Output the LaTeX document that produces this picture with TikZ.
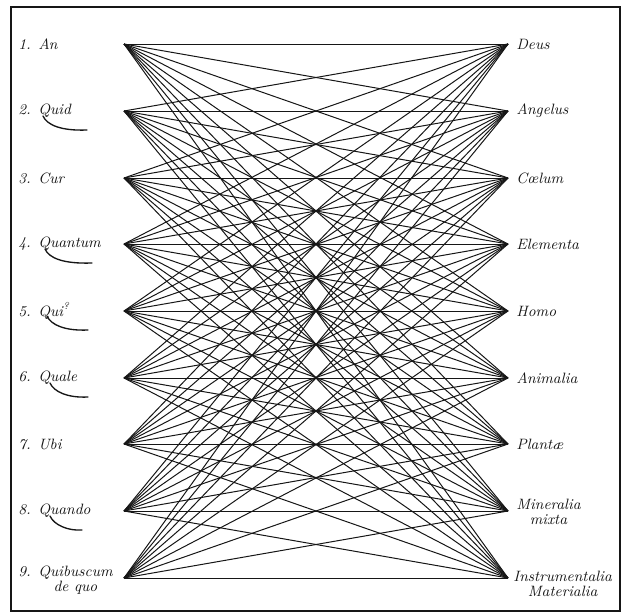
\documentclass[tikz,border=0pt]{standalone}
\usepackage{tikz}
\usetikzlibrary{positioning}
\definecolor{ink}{HTML}{161616}
\tikzset{
  qlabel/.style={anchor=west,font=\small\itshape,text=ink,inner sep=0pt},
  slabel/.style={anchor=west,font=\small\itshape,text=ink,inner sep=0pt,align=center},
  link/.style={draw=ink,line width=0.6pt},
  swash/.style={draw=ink,line width=0.8pt,line cap=round},
  frame/.style={draw=ink,line width=0.9pt}
}

\begin{document}
\begin{tikzpicture}[x=0.6pt,y=-0.6pt]
    \useasboundingbox (0,0) rectangle (623,613);
    \draw[frame] (11,7) rectangle (620,611);
    \foreach \i/\y in {1/44,2/111,3/178,4/244,5/311,6/378,7/444,8/511,9/578} {
      \coordinate (q\i) at (124,\y);
      \coordinate (s\i) at (508,\y);
    }
    \node[qlabel] (lq1) at (18,44) {1. An};
    \node[qlabel] (lq2) at (18,111) {2. Quid};
    \node[qlabel] (lq3) at (18,178) {3. Cur};
    \node[qlabel] (lq4) at (18,244) {4. Quantum};
    \node[qlabel] (lq5) at (18,311) {5. Qui\textsuperscript{?}};
    \node[qlabel] (lq6) at (18,378) {6. Quale};
    \node[qlabel] (lq7) at (18,444) {7. Ubi};
    \node[qlabel] (lq8) at (18,511) {8. Quando};
    \node[qlabel,anchor=base west] (lq9) at (18,576)
      {9. \begin{tabular}[t]{@{}c@{}}Quibuscum\\[-2pt]de quo\end{tabular}};
    \node[slabel] (ls1) at (516,44) {Deus};
    \node[slabel] (ls2) at (516,111) {Angelus};
    \node[slabel] (ls3) at (516,178) {C\oe lum};
    \node[slabel] (ls4) at (516,244) {Elementa};
    \node[slabel] (ls5) at (516,311) {Homo};
    \node[slabel] (ls6) at (516,378) {Animalia};
    \node[slabel] (ls7) at (516,444) {Plant\ae};
    \node[slabel] (ls8) at (516,512) {Mineralia\\[-2pt]mixta};
    \node[slabel] (ls9) at (513,584) {Instrumentalia\\[-2pt]Materialia};
    \foreach \i in {1,...,9}
      \foreach \j in {1,...,9}
        \draw[link] (q\i) -- (s\j);
    \foreach \i/\a/\b in {2/25/69,4/27/74,5/29/70,6/32/70,8/32/64} {
      \begin{scope}[shift={(lq\i.west)}]
        \draw[swash] (\a,5) .. controls (\a+4,14) and (\a+18,20) .. (\b,19);
      \end{scope}
    }
\end{tikzpicture}
\end{document}
